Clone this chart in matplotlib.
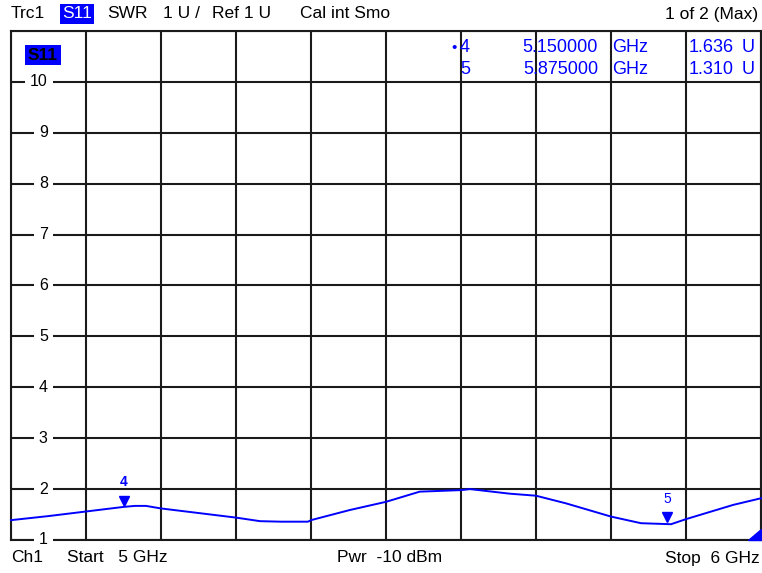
import numpy as np
import matplotlib.pyplot as plt

plt.rcParams['font.family'] = ['Liberation Sans', 'DejaVu Sans']

# trace (GHz, SWR)
freq_ghz = [5.0, 5.05, 5.1, 5.15, 5.165, 5.18, 5.2, 5.25, 5.3, 5.332, 5.36, 5.396,
            5.4, 5.452, 5.5, 5.545, 5.6, 5.612, 5.665, 5.7, 5.74, 5.8, 5.84,
            5.88, 5.9, 5.963, 6.0]
swr = [1.39, 1.47, 1.56, 1.65, 1.67, 1.67, 1.62, 1.53, 1.44, 1.37, 1.36, 1.36,
       1.39, 1.59, 1.75, 1.95, 1.98, 2.0, 1.91, 1.87, 1.72, 1.46, 1.33,
       1.31, 1.41, 1.69, 1.82]

marker_ids = ['4', '5']
marker_freq = [5.15, 5.875]
marker_val = [1.636, 1.310]
y_ticks = [1, 2, 3, 4, 5, 6, 7, 8, 9, 10]

W, H = 762, 573
BLUE = '#0000ff'
FS = 12.5
fig = plt.figure(figsize=(W / 100, H / 100), dpi=100)

def px(x, y):
    return x / W, 1 - y / H

ax = fig.add_axes([11 / W, (H - 540) / H, 750 / W, 509 / H])
ax.set_xlim(5.0, 6.0)
ax.set_ylim(1, 11)
ax.set_xticks(np.linspace(5.0, 6.0, 11))
ax.set_yticks(y_ticks + [11])
ax.tick_params(length=0, labelbottom=False, labelleft=False)
ax.grid(True, color='#1a1a1a', linewidth=1.5)
for s in ax.spines.values():
    s.set_color('#1a1a1a')
    s.set_linewidth(1.5)

# y labels sit inside the grid, with a gap cut in the line
for v in y_ticks:
    ax.text(0.049, v, str(v), transform=ax.get_yaxis_transform(), ha='right',
            va='center', fontsize=11.5,
            bbox=dict(facecolor='white', edgecolor='none', pad=3.5))

ax.plot(freq_ghz, swr, color=BLUE, linewidth=1.4, clip_on=False, zorder=3)

# markers
for i, (m, f, v) in enumerate(zip(marker_ids, marker_freq, marker_val)):
    ax.plot(f, v + 0.14, marker='v', color=BLUE, markersize=7, zorder=4)
    ax.text(f, v + 0.5, m, color=BLUE, ha='center', va='center', fontsize=10,
            fontweight='bold' if i == 0 else 'normal')

# small limit triangle bottom-right
ax.fill([0.982, 1.0, 1.0], [1.0, 1.0, 1.22], color=BLUE, clip_on=False, zorder=4,
        transform=ax.get_yaxis_transform())

# S11 label in plot
fig.text(*px(28, 55), 'S11', fontsize=FS, fontweight='bold', va='center',
         bbox=dict(facecolor=BLUE, edgecolor='none', pad=2))

# marker table
rows_y = [48, 70]
for j, (m, f, v) in enumerate(zip(marker_ids, marker_freq, marker_val)):
    y = rows_y[j]
    if j == 0:
        fig.text(*px(451, y), '•', color=BLUE, fontsize=11, va='center')
    fig.text(*px(460, y), m, color=BLUE, fontsize=13, va='center')
    fig.text(*px(598, y), f'{f:.6f}', color=BLUE, fontsize=13, va='center', ha='right')
    fig.text(*px(612, y), 'GHz', color=BLUE, fontsize=13, va='center')
    fig.text(*px(734, y), f'{v:.3f}', color=BLUE, fontsize=13, va='center', ha='right')
    fig.text(*px(742, y), 'U', color=BLUE, fontsize=13, va='center')

# header
hy = 14
fig.text(*px(11, hy), 'Trc1', fontsize=FS, va='center')
fig.text(*px(62, hy), 'S11', fontsize=FS, va='center', color='white',
         bbox=dict(facecolor=BLUE, edgecolor='none', pad=1.5))
fig.text(*px(107, hy), 'SWR', fontsize=FS, va='center')
fig.text(*px(163, hy), '1 U /', fontsize=FS, va='center')
fig.text(*px(212, hy), 'Ref 1 U', fontsize=FS, va='center')
fig.text(*px(300, hy), 'Cal int Smo', fontsize=FS, va='center')
fig.text(*px(758, hy), '1 of 2 (Max)', fontsize=FS, va='center', ha='right')

# footer
fy = 558
fig.text(*px(11, fy), 'Ch1', fontsize=FS, va='center')
fig.text(*px(67, fy), 'Start   5 GHz', fontsize=FS, va='center')
fig.text(*px(337, fy), 'Pwr  -10 dBm', fontsize=FS, va='center')
fig.text(*px(760, fy), 'Stop  6 GHz', fontsize=FS, va='center', ha='right')

fig.savefig('out.png', dpi=100)
